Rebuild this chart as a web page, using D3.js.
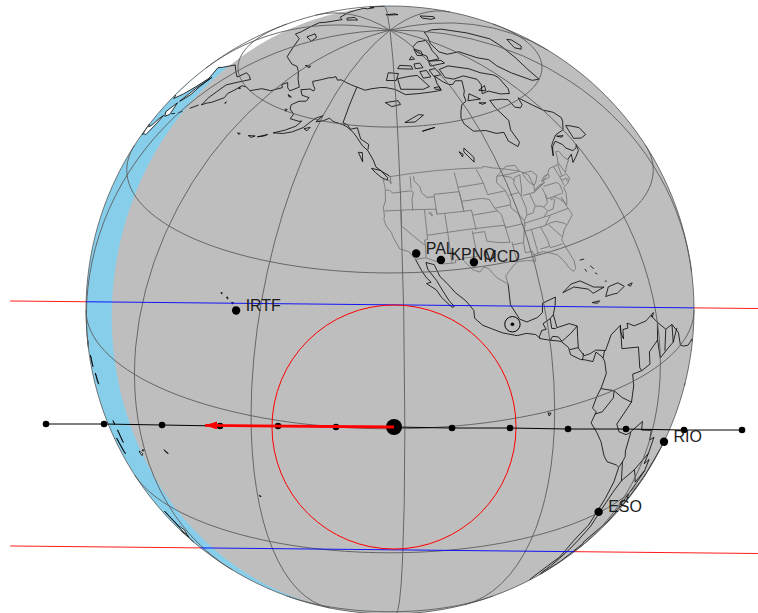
<!DOCTYPE html>
<html>
<head>
    <meta charset="utf-8">
    <title>Occultation map</title>
    <script src="https://d3js.org/d3.v7.min.js"></script>
    <style>
        body { margin: 0; background: white; }
        text { font-family: "Liberation Sans", Arial, sans-serif; font-size: 16px; fill: #1c1c1c; }
    </style>
</head>
<body>
    <div id="map"></div>
    <script>
        // Sites (lon, lat)
        const siteNames = ['PAL', 'KPNO', 'MCD', 'IRTF', 'ESO', 'RIO'];
        const siteLon = [-116.86, -111.4, -104.02, -155.3, -70.6, -43.2];
        const siteLat = [33.6, 32.1, 31, 19.6, -29.7, -23.6];

        // Antisolar point
        const sunLonLat = [-97.7, 18.3];

        // Shadow track in km on the fundamental plane
        const trackX = [-7217, -6000, -4783, -3566, -2349, -1133, 84, 1301, 2518, 3735, 4952, 6169, 7386];
        const trackY = [-2392, -2392, -2413, -2434, -2434, -2455, -2455, -2476, -2476, -2497, -2497, -2518, -2518];
        const limitX = [-7970, 7720];
        const northLimitY = [189, 31];
        const southLimitY = [-4951, -5109];
        const shadowRadius = 2560;
        const arrowEndX = -3880;
        const arrowEndY = -2420;

        // Coastlines, rough reading off the picture
        const alaskaCoast = [[-141,69.6],[-145,70],[-148.5,70.4],[-152,70.8],[-154,70.5],[-156.5,71.3],[-158,70.8],[-160,70.5],[-163,69.5],[-166.5,68.4],[-164,67.5],[-162,67],[-161.5,66.3],[-164,66.5],[-168,65.6],[-165,64.5],[-161,64.5],[-161,63.5],[-164,63],[-166,61.7],[-165,60.7],[-162,59.9],[-162,58.7],[-158,58.7],[-157,58.9],[-158,57.5],[-161,56],[-164.5,54.7],[-161,55.2],[-158,56.1],[-155,57.6],[-154,58.7],[-152.5,60.2],[-150,61.2],[-151.5,59.5],[-149,60],[-147,60.9],[-145,60.3],[-141,59.9],[-139,59.5],[-136,58.3],[-134,57],[-132,55.5],[-130,54.5],[-128,52.5],[-127,51],[-125,50],[-123,49.2],[-122.7,48.9]];
        const mexicoPacific = [[-117.1,32.5],[-116,30.5],[-115,29],[-114,28],[-115,27.8],[-113,26.5],[-112,25],[-110,23],[-109.5,23.1],[-110.5,24.3],[-111.5,26],[-112.8,28.3],[-114.5,30.5],[-114.8,31.8],[-113,31.3],[-112,29],[-110.5,27.5],[-109,25.7],[-107,24],[-105.5,22],[-105.5,20.5],[-104,19],[-102,18],[-100,17],[-97,16],[-95,16.1],[-93,15.5],[-92,14.5],[-90,13.8],[-88,13.2],[-87.5,13],[-86,11.5],[-85.7,10],[-83.5,8.5],[-82.5,8.2],[-80.5,7.3],[-79.5,8.9],[-78,7.5],[-77.5,6.5],[-77.3,4],[-78.8,1.5],[-80,0],[-81,-2],[-80,-3],[-81.2,-5],[-79.5,-7.5],[-78,-10],[-76.3,-13.8],[-75,-15.5],[-71.5,-17.5],[-70.3,-18.5],[-70.2,-22],[-70.8,-26],[-71.5,-30],[-71.6,-33],[-73.5,-37],[-73.5,-41],[-73,-43],[-75,-46],[-75,-50],[-73,-53],[-69,-55],[-65,-55],[-68.5,-52.5],[-69,-51],[-66,-48],[-65.7,-45],[-63.5,-42.5],[-65,-41],[-62,-39],[-57.5,-38],[-56.7,-36],[-58.4,-34.2],[-54,-34.5],[-51,-31],[-48.5,-26],[-46,-24],[-43,-23],[-41,-22],[-39,-17],[-38.5,-13],[-35,-9],[-35,-5.5],[-38.5,-3.5],[-41,-3],[-44,-2.5],[-48,-1],[-50,0],[-51,3],[-54,5.8],[-57,6],[-60,8.5],[-62,10.6],[-64,10.2],[-68,10.6],[-70,11.8],[-70,10.8],[-71.5,11],[-71.7,9.2],[-72.3,10.9],[-72,12],[-75,11],[-77,8.5],[-79.5,9.3],[-81,9],[-82.5,9],[-83.7,10.8],[-83.5,13],[-83.2,15],[-85,15.9],[-88,15.8],[-88.3,18.4],[-87.5,20],[-87,21.5],[-90.3,21],[-90.7,19.3],[-92,18.6],[-94.5,18.2],[-96,19],[-97.5,22],[-97.2,25.9]];
        const canadaEast = [[-67,44.8],[-67,45],[-64.5,45.5],[-66,44],[-64,44.5],[-61,45.3],[-60,46.5],[-61,46],[-63,45.9],[-64.7,47],[-65,48],[-66.5,49.2],[-69,48.5],[-71,46.9],[-69,48.8],[-67,49.5],[-64.5,50.2],[-60,50.2],[-57,51.5],[-56,52.2],[-57,54],[-60,55.5],[-62,57.5],[-64.5,60.3],[-66,58.7],[-68,58.3],[-70,59],[-69.5,61],[-72,61.7],[-77.5,62.5],[-78,60.5],[-77,57],[-79,55],[-79,52],[-80.5,51.3],[-82.5,53],[-82,55],[-85,55.3],[-88,56.5],[-92.5,57],[-94.5,59],[-94.5,60.5],[-93,62],[-90.8,63.5],[-88,64],[-87,65.5],[-85,66.5],[-81.5,69],[-85,69.5],[-88,68.8],[-90,69],[-92,70],[-94.5,72],[-96,70],[-96,68],[-98,68],[-102,68],[-108,68],[-115,68],[-120,69.5],[-125,70],[-128,70],[-133,69.5],[-136,69],[-141,69.6]];
        const siberiaCoast = [[60,69],[68,69],[67,72],[72,73],[73,71],[75,72],[80,73],[87,74],[100,76],[105,77.7],[113,75],[113,73.7],[120,73],[128,72],[130,71],[140,72.5],[150,71.5],[160,69.7],[170,69.5],[175,69.8],[-180,69],[-175,67.5],[-170,66],[-172.5,64.4],[-175,64.8],[-178,65.8],[-179.5,64.8],[-177.5,64.3],[179,62.5],[174,61.8],[170,60],[166,60],[163.5,59.5],[163,58],[162,56.5],[163,55.5],[160,53],[158,52],[156.8,51],[155.8,53],[155.7,57],[158,58.5],[163,61.5],[160,61.7],[156,61.5],[155,59.5],[150,59.5],[143,59.3],[138,56],[135.5,54.7],[141,53.2],[140.5,50],[138,46.5],[133,42.8],[130,42.5]];
        const siberiaInterior = [[125,45],[100,45],[60,50]];

        // Islands, lit ones get a white fill
        const baffin = [[-61.5,66],[-64,63],[-66,62],[-70,62.8],[-74,64.5],[-78,64.5],[-74,66.5],[-73,68],[-78,70],[-85,70],[-89,71],[-88,73.5],[-80,73.7],[-76,72.7],[-70,71],[-67,69],[-62,67],[-61.5,66]];
        const victoria = [[-117,69.5],[-105,69],[-101,69.5],[-105,73],[-110,73],[-118,72.5],[-117,69.5]];
        const banks = [[-125,72],[-119,72],[-117,74],[-124,74.3],[-125,72]];
        const ellesmere = [[-90,76.5],[-80,76.3],[-78,77.5],[-76,79],[-68,81],[-62,82.3],[-75,83],[-90,82],[-92,80],[-87,78],[-90,76.5]];
        const devon = [[-92,75],[-80,74.7],[-80,75.7],[-90,76.5],[-92,75]];
        const melville = [[-117,75.5],[-106,75],[-106,76],[-115,76.5],[-117,75.5]];
        const axelHeiberg = [[-95,79],[-90,78.5],[-87,80],[-92,81.2],[-95,79]];
        const somerset = [[-95,72],[-90,72],[-90,74],[-95,74],[-95,72]];
        const princeWales = [[-102,72],[-97,72],[-97,74],[-102,74],[-102,72]];
        const kingWilliam = [[-99,69],[-96,69],[-96,68.3],[-98.5,68.5],[-99,69]];
        const bathurst = [[-104,75],[-98,75],[-98,76.5],[-103,76.5],[-104,75]];
        const ringnes = [[-105,78],[-100,78],[-101,79],[-105,78]];
        const foxeIs = [[-78,65.5],[-73,66],[-75,64.8],[-78,65.5]];
        const coats = [[-83,62.8],[-80,62.3],[-82,62.2],[-83,62.8]];
        const southampton = [[-87,64],[-81,63.5],[-84,65.5],[-87,64]];
        const newfoundland = [[-59,47.7],[-56,46.8],[-53,46.7],[-53,48.5],[-56,50],[-57.5,50.5],[-59,47.7]];
        const anticosti = [[-64.5,49.9],[-62,49.3],[-63,49.2],[-64.5,49.9]];
        const greenland = [[-35,83.5],[-22,82],[-18,80],[-20,75],[-22,70.5],[-28,68.5],[-36,65.5],[-41,63],[-44,60],[-48,61],[-52,65],[-53,68],[-51,70],[-55,72],[-58,75.5],[-69,76.5],[-72,78],[-65,81],[-50,82.5],[-35,83.5]];
        const iceland = [[-24,65.5],[-20,66],[-15,66.2],[-13.7,65],[-18,63.5],[-22.5,64],[-24,65.5]];
        const svalbard = [[12,79],[20,80],[26,79],[18,77],[14,77.5],[12,79]];
        const franzJosef = [[48,80.5],[58,81],[62,80.7],[52,80],[48,80.5]];
        const wrangel = [[178.5,71],[-178,71.5],[-177.5,71],[178.5,71]];
        const novosibirsk = [[137,75.5],[145,76],[150,75],[140,74],[137,75.5]];
        const severnaya = [[95,79],[100,81],[105,79],[100,78],[95,79]];
        const vancouver = [[-128.3,50.7],[-125.5,50.3],[-123.5,48.8],[-123.5,48.3],[-125,48.7],[-127,49.8],[-128.3,50.7]];
        const haidaGwaii = [[-133,54],[-131.7,54],[-131.2,52],[-133,54]];
        const kodiak = [[-154.5,57.4],[-152.5,58],[-153,57.1],[-154.5,57.4]];
        const aleutianA = [[-169,52.8],[-166,54],[-167,53.4],[-169,52.8]];
        const aleutianB = [[-172.5,52.3],[-170,52.8],[-171,52.2],[-172.5,52.3]];
        const aleutianC = [[-177,51.8],[-176,52],[-176,51.7],[-177,51.8]];
        const stLawrenceIs = [[-171.5,63.5],[-169,63.3],[-170,63.1],[-171.5,63.5]];
        const nunivak = [[-167,60.3],[-166,60.4],[-166,59.9],[-167,60.3]];
        const commander = [[166,55.3],[166.5,55],[166.2,54.9],[166,55.3]];
        const karaginsky = [[163.5,59],[164.5,59],[164,58.7],[163.5,59]];
        const sakhalin = [[142,54],[143,51],[144,49],[143,47],[142,46],[142,50],[142,54]];
        const hokkaido = [[140,42],[141.7,45.4],[145.3,43.5],[143,42],[140,42]];
        const honshu = [[141.3,41.5],[142,39.5],[140.8,36],[137,34.7],[135.5,33.7],[132,34],[131,34.5],[136,36],[139,38],[140,40],[141.3,41.5]];
        const kurilA = [[146,44],[148,45]];
        const kurilB = [[149.5,45.8],[151,46.8]];
        const kurilC = [[153,48.5],[155.5,50.5]];
        const newGuinea = [[141,-2.6],[145,-4.2],[147.8,-6],[147,-7],[150.8,-10.3],[147,-10],[144,-8],[141,-9],[141,-2.6]];
        const newBritain = [[148.5,-5.6],[152,-4.2],[151,-5.5],[149,-6.2],[148.5,-5.6]];
        const solomonA = [[155,-6],[157,-7.5],[155.5,-6.8],[155,-6]];
        const solomonB = [[159,-8],[161,-9.5],[160,-9.5],[159,-8]];
        const vanuatuA = [[166.6,-15],[167.2,-15.5],[166.8,-15.8],[166.6,-15]];
        const vanuatuB = [[168,-16.5],[169.3,-18.8],[168.7,-18],[168,-16.5]];
        const newCaledonia = [[164,-20],[167,-22.4],[166,-22.1],[164,-20]];
        const fijiA = [[177.3,-17.5],[178.6,-17.6],[178,-18.3],[177.3,-17.9],[177.3,-17.5]];
        const fijiB = [[178.8,-16.7],[-180,-16.2],[179,-16.9],[178.8,-16.7]];
        const samoa = [[-172.7,-13.5],[-171.5,-13.9],[-172,-14],[-172.7,-13.5]];
        const tahiti = [[-149.6,-17.5],[-149.2,-17.7],[-149.5,-17.8],[-149.6,-17.5]];
        const nzNorth = [[173,-34.5],[176,-37.5],[178.5,-37.7],[176.5,-40],[175,-41.5],[174.8,-39.5],[174.7,-37],[173,-34.5]];
        const nzSouth = [[172.7,-40.5],[174.2,-41.5],[172.8,-43.7],[171,-45.9],[168.5,-46.6],[166.5,-46],[170,-43],[172.7,-40.5]];
        const hawaiiBig = [[-155.9,20.2],[-155,19.7],[-155.7,19],[-156,19.6],[-155.9,20.2]];
        const hawaiiMaui = [[-156.7,20.9],[-156.2,20.9],[-156.4,20.6],[-156.7,20.9]];
        const hawaiiOahu = [[-158.2,21.5],[-157.9,21.7],[-157.7,21.3],[-158.2,21.5]];
        const hawaiiKauai = [[-159.7,22.1],[-159.4,22.2],[-159.4,21.9],[-159.7,22.1]];
        const cuba = [[-85,21.9],[-82.5,23],[-80,23],[-77,21],[-74.2,20.2],[-77.5,19.9],[-78.5,21],[-82,22.3],[-85,21.9]];
        const hispaniola = [[-74.4,18.4],[-73,19.9],[-70,19.8],[-68.4,18.6],[-71,18],[-72,18.2],[-74.4,18.4]];
        const jamaica = [[-78.3,18.3],[-76.3,18.1],[-77,17.8],[-78.3,18.3]];
        const puertoRico = [[-67.2,18.5],[-65.7,18.4],[-66.5,18],[-67.2,18.5]];
        const trinidad = [[-61.8,10.7],[-60.9,10.8],[-61.5,10.1],[-61.8,10.7]];
        const bahamaA = [[-78.5,26.7],[-77.2,26.6]];
        const bahamaB = [[-77.9,24.8],[-77.6,24.2]];
        const bahamaC = [[-76.2,25],[-75.5,24.2]];
        const bahamaD = [[-75.5,23.4],[-75,23]];
        const bahamaE = [[-73.5,21.2],[-73,21]];
        const galapagos = [[-91.5,-0.3],[-90.8,-0.5],[-91.2,-1],[-91.5,-0.3]];

        const blackLines = [alaskaCoast, mexicoPacific, canadaEast, siberiaCoast, baffin, victoria, banks, ellesmere, devon, melville, axelHeiberg, somerset, princeWales, kingWilliam, bathurst, ringnes, foxeIs, coats, southampton, newfoundland, anticosti, greenland, iceland, svalbard, franzJosef, wrangel, novosibirsk, severnaya, vancouver, haidaGwaii, kodiak, aleutianA, aleutianB, aleutianC, stLawrenceIs, nunivak, commander, karaginsky, sakhalin, hokkaido, honshu, kurilA, kurilB, kurilC, newGuinea, newBritain, solomonA, solomonB, vanuatuA, vanuatuB, newCaledonia, fijiA, fijiB, samoa, tahiti, nzNorth, nzSouth, hawaiiBig, hawaiiMaui, hawaiiOahu, hawaiiKauai, cuba, hispaniola, jamaica, puertoRico, trinidad, bahamaA, bahamaB, bahamaC, bahamaD, bahamaE, galapagos];
        const whiteLand = [sakhalin, hokkaido, honshu, newGuinea, newBritain, solomonA, solomonB, vanuatuA, vanuatuB, newCaledonia, fijiA, samoa, nzNorth, nzSouth, wrangel, novosibirsk, severnaya, franzJosef];

        // Lakes in Canada
        const greatBear = [[-125,66],[-119,66.5],[-118,65.5],[-122,65],[-125,66]];
        const greatSlave = [[-117,61],[-111,62.7],[-109,62.5],[-113,61],[-117,61]];
        const athabasca = [[-111,58.7],[-106,59.3],[-109,59],[-111,58.7]];
        const winnipeg = [[-97,50.5],[-96.5,51.5],[-98.5,53.8],[-99,53],[-97,50.5]];
        const winnipegosis = [[-100,52],[-99.5,52.5],[-100.5,53.2],[-100,52]];

        // Borders outside the US drawn in black
        const alaskaBorder = [[-141,69.6],[-141,60.3],[-139,60],[-137.5,59],[-135,59.5],[-133,57],[-130,55.9],[-130,54.7]];
        const latinBorders = [
            [[-92.2,14.5],[-92.2,15],[-91.5,16],[-90.5,16],[-91,17.2],[-89.2,17.8],[-88.3,18.4]],
            [[-89.2,17.8],[-89.2,15.9],[-88.2,15.7]],
            [[-90,13.7],[-89.3,14.4],[-88,14],[-87.3,13]],
            [[-87.3,13],[-85,14],[-83.2,15]],
            [[-85.7,11],[-83.7,10.9]],
            [[-83,8.3],[-82.6,9.5]],
            [[-77.3,8.5],[-77.8,7.3]],
            [[-72,12],[-72.5,7.5],[-67.5,6.2],[-67.5,2],[-66.9,1.2]],
            [[-60,8.5],[-60.7,5.2],[-64,4],[-64,1.5],[-66.9,1.2],[-69.8,1.5],[-69.5,-1],[-70,-4.2],[-74,-7.5],[-73,-9.5],[-70.5,-11],[-69.5,-11],[-65.3,-10],[-65,-12],[-60.5,-13.8],[-60,-16.2],[-58,-16.3],[-58,-20],[-58,-22.5],[-55.5,-22.5],[-54.6,-25.6],[-57.6,-30.2],[-58.4,-33.5]],
            [[-60.7,5.2],[-60,1.3],[-56.5,2],[-54,2.2],[-51.7,4.2]],
            [[-57,6],[-58,2]],
            [[-54,5.8],[-54,2.2]],
            [[-70,-4.2],[-72.9,-2.3],[-75.3,-0.1],[-78.8,1.4]],
            [[-75.3,-0.1],[-75.5,-1.5],[-78.4,-3.5],[-80.3,-3.4]],
            [[-69,-11],[-69.5,-15],[-69,-16.5],[-69.5,-17.5],[-68.5,-20],[-67,-23],[-68.5,-25],[-70,-30],[-70,-34],[-71,-38],[-72,-44],[-72,-50],[-69,-52]],
            [[-69.5,-17.5],[-70.3,-18.4]],
            [[-67,-23],[-62.7,-22],[-58,-20]],
            [[-62.7,-22],[-58,-27],[-54.6,-25.6]],
            [[-57.6,-30.2],[-53.4,-33.7]]
        ];

        // US coast, lakes, state lines in grey
        const usWest = [[-122.7,48.9],[-122.5,47.5],[-123,48.2],[-124.7,48.4],[-124.1,46.5],[-124,44],[-124.5,42.8],[-124.2,41],[-124.3,40.3],[-123.7,39],[-122.5,37.8],[-121.9,36.6],[-120.6,34.6],[-118.5,34],[-117.1,32.5]];
        const usGulfEast = [[-97.2,25.9],[-97.4,27.5],[-95,29.2],[-93.8,29.7],[-91.5,29.5],[-89.5,29],[-89.5,30.3],[-87,30.4],[-85.3,29.7],[-83.7,29],[-82.7,27.7],[-81.8,26],[-81,25.1],[-80.2,25.5],[-80,27],[-81,30],[-81.3,31.5],[-79.5,33.2],[-77.9,34],[-75.6,35.2],[-76,37],[-76.3,39],[-76,37.2],[-75.2,38],[-74.2,39.5],[-74,40.6],[-72,41],[-70.5,41.7],[-70.7,43],[-69,44],[-67,44.8]];
        const usCanadaBorder = [[-123,49],[-95.15,49],[-94.8,49.3],[-92,48.5],[-89.6,48],[-84.5,46.5],[-82.5,45.3],[-82.5,43],[-83,42],[-79,42.8],[-79,43.3],[-76.5,44.2],[-75,45],[-71.5,45],[-71,45.3],[-70.3,46],[-69.2,47.4],[-68,47.2],[-67.8,45.7],[-67,44.8]];
        const usMexicoBorder = [[-117.1,32.5],[-114.7,32.7],[-111,31.3],[-108.2,31.3],[-108.2,31.8],[-106.5,31.8],[-104.5,29.6],[-103,29],[-102,29.8],[-101,29.5],[-99.5,27.5],[-97.2,25.9]];
        const lakeSuperior = [[-92,46.7],[-88,48.2],[-85,47.9],[-84.6,46.5],[-87,46.5],[-90,46.6],[-92,46.7]];
        const lakeMichigan = [[-87.5,41.7],[-86.5,43],[-85.5,45],[-85,45.8],[-87,45.6],[-88,44.5],[-87.8,43],[-87.5,41.7]];
        const lakeHuron = [[-84,46],[-81,45.8],[-80,44.6],[-81.7,43.3],[-82.5,43],[-83.5,44],[-84,45.5],[-84,46]];
        const lakeErie = [[-83.4,41.7],[-79,42.8],[-81,42.7],[-83,42],[-83.4,41.7]];
        const lakeOntario = [[-79.7,43.2],[-76.5,43.5],[-76.3,44.1],[-78,44],[-79.7,43.2]];
        const greatSaltLake = [[-113,41.4],[-112.3,41.3],[-112.2,40.7],[-113,41.4]];
        const stateLines = [
            [[-124,46.2],[-123,46.2],[-122,45.6],[-119,45.9],[-116.9,46]],
            [[-117,49],[-117,46.4]],
            [[-116.9,46],[-116.5,45.5],[-117,44.3],[-117,42]],
            [[-124.2,42],[-111,42]],
            [[-120,42],[-120,39],[-114.6,35]],
            [[-114.6,35],[-114.7,32.7]],
            [[-114,42],[-114,37],[-114,36.2],[-114.7,36.1],[-114.6,35]],
            [[-114,37],[-94.6,37]],
            [[-109,37],[-109,31.3]],
            [[-109,41],[-109,37]],
            [[-111,45],[-104,45],[-104,41],[-111,41],[-111,45]],
            [[-111,42],[-111,41]],
            [[-116,49],[-116,48],[-114.5,46.7],[-114.3,45.5],[-113,44.5],[-111,44.5]],
            [[-104,49],[-104,41]],
            [[-104,45.9],[-96.6,45.9]],
            [[-104,43],[-98.5,43],[-96.5,42.5]],
            [[-104,41],[-102,41],[-102,40],[-95.3,40]],
            [[-102,40],[-102,37]],
            [[-103,37],[-103,32],[-106.6,32]],
            [[-103,36.5],[-100,36.5],[-100,34.6],[-97,33.9],[-94.5,33.6]],
            [[-94.6,37],[-94.5,33.6]],
            [[-94,33.6],[-94,29.7]],
            [[-94,33],[-91.2,33]],
            [[-91.2,33],[-91.5,31],[-89.7,31],[-89.6,30.2]],
            [[-97.2,49],[-96.6,46],[-96.5,43.5]],
            [[-96.5,43.5],[-91.2,43.5]],
            [[-92,46.7],[-92.8,45.5],[-91.2,43.5]],
            [[-95.8,40.6],[-91.5,40.6]],
            [[-96.5,42.5],[-95.8,40.6],[-94.6,39.1],[-94.6,36.5]],
            [[-91.2,43.5],[-91,41.5],[-91.5,40],[-90.2,38.7],[-89.2,37],[-89.5,36],[-90.2,35],[-91.2,33]],
            [[-94.6,36.5],[-90,36.5],[-89.7,36]],
            [[-90.6,42.5],[-87.8,42.5]],
            [[-90.4,46.6],[-88,45.8],[-87.6,45.1]],
            [[-87.5,41.7],[-87.5,39.3],[-88,37.9]],
            [[-89.2,37],[-88,37.9],[-86,38],[-85.5,38.6],[-84.8,39.1],[-83,38.7],[-82.6,38.4],[-81,39],[-80.5,40.6]],
            [[-84.8,39.1],[-84.8,41.7]],
            [[-87,41.75],[-83.4,41.7]],
            [[-80.5,40.6],[-80.5,42]],
            [[-79.8,42.2],[-75.3,42]],
            [[-80.5,40.6],[-80.5,39.7],[-75.8,39.7]],
            [[-75.3,42],[-74.7,41.4],[-75,40],[-75.6,39.5]],
            [[-79.5,39.7],[-79.5,39.2],[-78,39.6],[-77,38.8],[-76.3,38]],
            [[-82,37.5],[-80.3,37.5],[-78.4,39.2]],
            [[-89.5,36.5],[-81.7,36.6],[-75.9,36.6]],
            [[-83.7,36.6],[-82,37.5],[-82.6,38.4]],
            [[-81.7,36.6],[-84.3,35]],
            [[-90.2,35],[-84.3,35]],
            [[-88.2,35],[-88.4,30.3]],
            [[-85.6,35],[-85,32.3],[-85,31]],
            [[-87.6,31],[-85,31],[-84.9,30.7],[-81.5,30.7]],
            [[-83.3,35],[-81,32.1]],
            [[-84.3,35],[-82.5,35.2],[-80.8,35.1],[-79,34.3],[-78.5,33.9]],
            [[-73.3,45],[-73.3,42.7],[-73.5,41.2],[-73.7,41]],
            [[-71.5,45],[-72.5,42.8]],
            [[-73.3,42.7],[-71,42.7]],
            [[-73.5,42],[-71.8,42],[-71.8,41.3]],
            [[-71.4,42],[-71.2,41.5]],
            [[-71,45.3],[-70.7,43.1]]
        ];
        const greyLines = [usWest, usGulfEast, usCanadaBorder, usMexicoBorder, lakeSuperior, lakeMichigan, lakeHuron, lakeErie, lakeOntario, greatSaltLake].concat(stateLines);
        const lakeLines = [greatBear, greatSlave, athabasca, winnipeg, winnipegosis];

        const width = 758;
        const height = 613;
        const radius = 304;
        const cx = 390;
        const cy = 310;

        const svg = d3.select('#map').append('svg')
                      .attr('width', width)
                      .attr('height', height);

        const projection = d3.geoOrthographic()
                             .scale(radius)
                             .translate([cx, cy])
                             .rotate([122.8, -23, 0])
                             .clipAngle(90)
                             .precision(0.3);
        const path = d3.geoPath(projection);

        // Fundamental plane, km from the earth centre
        const xScale = d3.scaleLinear().domain([-6378, 6378]).range([cx - radius, cx + radius]);
        const yScale = d3.scaleLinear().domain([-6378, 6378]).range([cy + radius, cy - radius]);

        // A polygon wound the wrong way would cover the rest of the sphere
        function polygon(coords) {
            const ring = coords.slice();
            if (ring[0][0] !== ring[ring.length - 1][0] || ring[0][1] !== ring[ring.length - 1][1]) ring.push(ring[0]);
            let f = { type: 'Polygon', coordinates: [ring] };
            if (d3.geoArea(f) > 2 * Math.PI) f = { type: 'Polygon', coordinates: [ring.slice().reverse()] };
            return f;
        }

        // Ocean
        svg.append('path')
           .datum({ type: 'Sphere' })
           .attr('d', path)
           .attr('fill', 'skyblue');

        // Land on the day side
        svg.append('path')
           .datum(polygon(siberiaCoast.concat(siberiaInterior)))
           .attr('d', path)
           .attr('fill', 'white');
        whiteLand.forEach((d) => {
            svg.append('path')
               .datum(polygon(d))
               .attr('d', path)
               .attr('fill', 'white');
        });

        // Night side
        svg.append('path')
           .datum(d3.geoCircle().center(sunLonLat).radius(90).precision(1)())
           .attr('d', path)
           .attr('fill', '#bebebe');

        // Coasts
        svg.append('path')
           .datum({ type: 'MultiLineString', coordinates: blackLines.concat(latinBorders, lakeLines, [alaskaBorder]) })
           .attr('d', path)
           .attr('fill', 'none')
           .attr('stroke', 'black')
           .attr('stroke-width', 0.8);

        svg.append('path')
           .datum({ type: 'MultiLineString', coordinates: greyLines })
           .attr('d', path)
           .attr('fill', 'none')
           .attr('stroke', '#787878')
           .attr('stroke-width', 0.9);

        // Graticule
        const graticule = d3.geoGraticule()
                            .step([30, 30])
                            .extent([[-180, -89.99], [180, 89.99]]);
        svg.append('path')
           .datum(graticule())
           .attr('d', path)
           .attr('fill', 'none')
           .attr('stroke', '#5c5c5c')
           .attr('stroke-width', 0.9);

        svg.append('path')
           .datum({ type: 'Sphere' })
           .attr('d', path)
           .attr('fill', 'none')
           .attr('stroke', '#555')
           .attr('stroke-width', 0.8);

        // Shadow limits, red off the earth and blue on it
        const defs = svg.append('defs');
        defs.append('clipPath')
            .attr('id', 'onEarth')
            .append('path')
            .datum({ type: 'Sphere' })
            .attr('d', path);
        defs.append('clipPath')
            .attr('id', 'offEarth')
            .append('path')
            .datum({ type: 'Sphere' })
            .attr('d', (d) => `M0,0H${width}V${height}H0Z` + path(d))
            .attr('clip-rule', 'evenodd');

        [northLimitY, southLimitY].forEach((limitY) => {
            const limit = d3.line()
                            .x((d, i) => xScale(limitX[i]))
                            .y((d) => yScale(d));
            svg.append('path')
               .attr('d', limit(limitY))
               .attr('stroke', 'red')
               .attr('stroke-width', 0.9)
               .attr('fill', 'none')
               .attr('clip-path', 'url(#offEarth)');
            svg.append('path')
               .attr('d', limit(limitY))
               .attr('stroke', 'blue')
               .attr('stroke-width', 0.9)
               .attr('fill', 'none')
               .attr('clip-path', 'url(#onEarth)');
        });

        // Shadow at mid event
        const midIndex = 6;
        svg.append('circle')
           .attr('cx', xScale(trackX[midIndex]))
           .attr('cy', yScale(trackY[midIndex]))
           .attr('r', xScale(shadowRadius) - xScale(0))
           .attr('fill', 'none')
           .attr('stroke', 'red')
           .attr('stroke-width', 1);

        // Track
        const trackLine = d3.line()
                            .x((d, i) => xScale(trackX[i]))
                            .y((d) => yScale(d));
        svg.append('path')
           .attr('d', trackLine(trackY))
           .attr('fill', 'none')
           .attr('stroke', 'black')
           .attr('stroke-width', 1);

        trackY.forEach((d, i) => {
            svg.append('circle')
               .attr('cx', xScale(trackX[i]))
               .attr('cy', yScale(d))
               .attr('r', i === midIndex ? 8 : 3.3)
               .attr('fill', 'black');
        });

        // Motion arrow
        defs.append('marker')
            .attr('id', 'head')
            .attr('viewBox', '0 0 12 8')
            .attr('refX', 12)
            .attr('refY', 4)
            .attr('markerUnits', 'userSpaceOnUse')
            .attr('markerWidth', 12)
            .attr('markerHeight', 8)
            .attr('orient', 'auto')
            .append('path')
            .attr('d', 'M0,0L12,4L0,8Z')
            .attr('fill', 'red');

        svg.append('line')
           .attr('x1', xScale(trackX[midIndex]))
           .attr('y1', yScale(trackY[midIndex]))
           .attr('x2', xScale(arrowEndX))
           .attr('y2', yScale(arrowEndY))
           .attr('stroke', 'red')
           .attr('stroke-width', 2.8)
           .attr('marker-end', 'url(#head)');

        // Sun symbol
        const sunPoint = projection(sunLonLat);
        svg.append('circle')
           .attr('cx', sunPoint[0])
           .attr('cy', sunPoint[1])
           .attr('r', 7.7)
           .attr('fill', 'none')
           .attr('stroke', 'black')
           .attr('stroke-width', 1);
        svg.append('circle')
           .attr('cx', sunPoint[0])
           .attr('cy', sunPoint[1])
           .attr('r', 1.8)
           .attr('fill', 'black');

        // Sites
        siteNames.forEach((name, i) => {
            const p = projection([siteLon[i], siteLat[i]]);
            svg.append('circle')
               .attr('cx', p[0])
               .attr('cy', p[1])
               .attr('r', 4.2)
               .attr('fill', 'black');
            svg.append('text')
               .attr('x', p[0] + 9.5)
               .attr('y', p[1])
               .text(name);
        });
    </script>
</body>
</html>
